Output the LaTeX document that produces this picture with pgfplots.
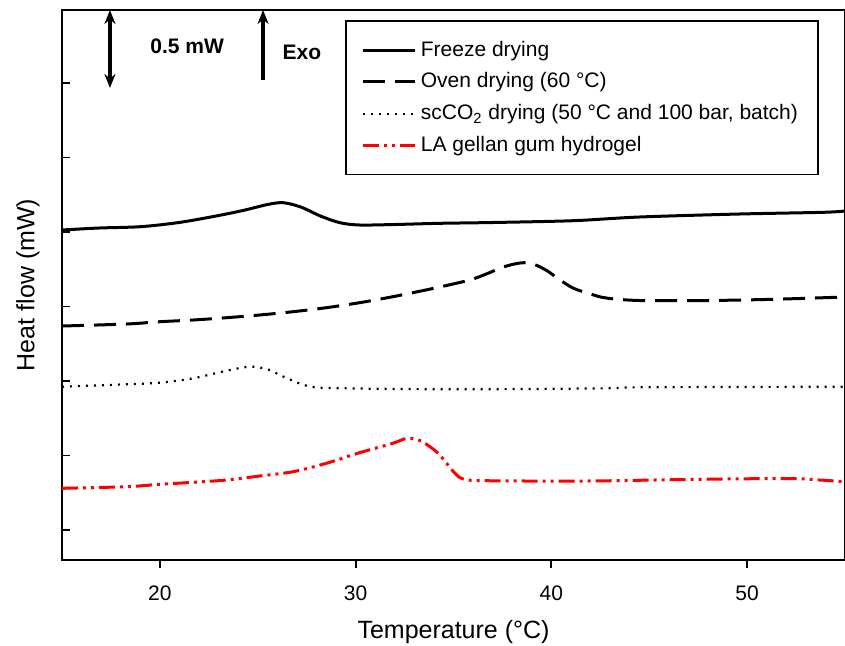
\documentclass[border=0pt]{standalone}
\usepackage{pgfplots}
\pgfplotsset{compat=1.18}
\usepackage{fontspec}
\setmainfont{Liberation Sans}
\usetikzlibrary{arrows.meta}
\begin{document}
\begin{tikzpicture}
\begin{axis}[
  width=391.5pt, height=275pt, scale only axis,
  xmin=15, xmax=55, ymin=0, ymax=550,
  xtick={20,30,40,50},
  ytick={30,104.5,179,253.5,328,402.5,477},
  yticklabels={},
  xtick align=outside, ytick align=inside,
  xtick pos=bottom, ytick pos=left,
  major tick length=4pt,
  axis line style={line width=0.9pt},
  every tick/.style={black, line width=0.9pt},
  /pgf/number format/assume math mode=true,
  xticklabel style={font=\fontsize{10.5}{12}\selectfont, yshift=-5.5pt},
  xlabel={Temperature (°C)},
  ylabel={Heat flow (mW)},
  xlabel style={font=\fontsize{12.5}{14}\selectfont, at={(axis description cs:0.5,0)}, anchor=center, yshift=-36pt},
  ylabel style={font=\fontsize{12.5}{14}\selectfont, at={(axis description cs:-0.0434,0.5)}, anchor=center},
  legend cell align=left,
  legend image code/.code={\draw[#1] (0pt,0pt) -- (26pt,0pt);},
  legend style={at={(axis description cs:0.3614,0.9818)}, anchor=north west, draw=black, line width=0.9pt,
    font=\fontsize{10.5}{12}\selectfont, inner xsep=8pt, inner ysep=8pt, row sep=2.8pt},
]
\addplot[black, line width=1.5pt, smooth] coordinates {
(15,330) (16.9,332) (19,333.3) (20.9,337.3) (22.6,343) (24.2,349.3) (25.5,355.5) (26.3,357.3) (27.2,353) (28.2,344) (29.2,337.3) (30.2,335) (32,335.5) (34.3,336.7) (37,337.5) (41.1,339.3) (44.5,343) (49.6,346) (53.9,347.7) (55,349)
};
\addlegendentry{Freeze drying}
\addplot[black, line width=1.5pt, smooth, dash pattern=on 11pt off 5pt] coordinates {
(15,234) (18.3,236) (20,238.3) (21.7,240) (23.4,242.3) (25.1,245) (26.8,248.3) (28.5,252.3) (30.2,257.3) (31.9,263.3) (33.7,270.5) (35.2,277) (36,281) (36.8,287) (37.4,292) (38,295.5) (38.6,297.3) (39.2,295) (39.8,289) (40.3,282) (41.1,272) (42,266) (42.8,262) (44.5,259.5) (48,259.5) (51.3,260.7) (55,263)
};
\addlegendentry{Oven drying (60 °C)}
\addplot[black, line width=1.1pt, smooth, dash pattern=on 1pt off 3pt] coordinates {
(15,173.3) (18.3,175.7) (20,177.3) (21.7,181.7) (23.4,189.3) (24.6,193.3) (25.5,190.7) (26.5,181.7) (27.7,173.3) (29.4,171.7) (35.3,170.7) (42.8,171.7) (44.5,172.7) (55,173.3)
};
\addlegendentry{scCO\textsubscript{2} drying (50 °C and 100 bar, batch)}
\addplot[red, line width=1.5pt, smooth, dash pattern=on 8pt off 2.5pt on 1.5pt off 2.5pt on 1.5pt off 2.5pt] coordinates {
(15,71.7) (18.3,73.3) (20,75.7) (21.7,77.7) (23.4,80) (25.1,84) (26.8,88.3) (28.5,96.7) (30.2,107.3) (31.9,116.7) (32.6,121.5) (33.3,119.3) (34.2,107) (35,88.3) (35.5,81) (36.7,79.3) (41.8,79) (46.9,80.5) (52,81.5) (53.7,80) (55,78.3)
};
\addlegendentry{LA gellan gum hydrogel}
\draw[line width=1.7pt, {Stealth[length=7pt,width=5.5pt]}-{Stealth[length=7pt,width=5.5pt]}] (axis cs:17.45,550) -- (axis cs:17.45,472);
\draw[line width=1.7pt, -{Stealth[length=7pt,width=5.5pt]}] (axis cs:25.27,480) -- (axis cs:25.27,550);
\node[font=\bfseries\fontsize{10.5}{12}\selectfont] at (axis cs:21.39,514) {0.5 mW};
\node[font=\bfseries\fontsize{10.5}{12}\selectfont] at (axis cs:27.26,508) {Exo};
\coordinate (sw) at (rel axis cs:0,0);
\coordinate (ne) at (rel axis cs:1,1);
\end{axis}
\pgfresetboundingbox
\path ([shift={(-31pt,-42.5pt)}]sw) rectangle ([shift={(0pt,5pt)}]ne);
\end{tikzpicture}
\end{document}
